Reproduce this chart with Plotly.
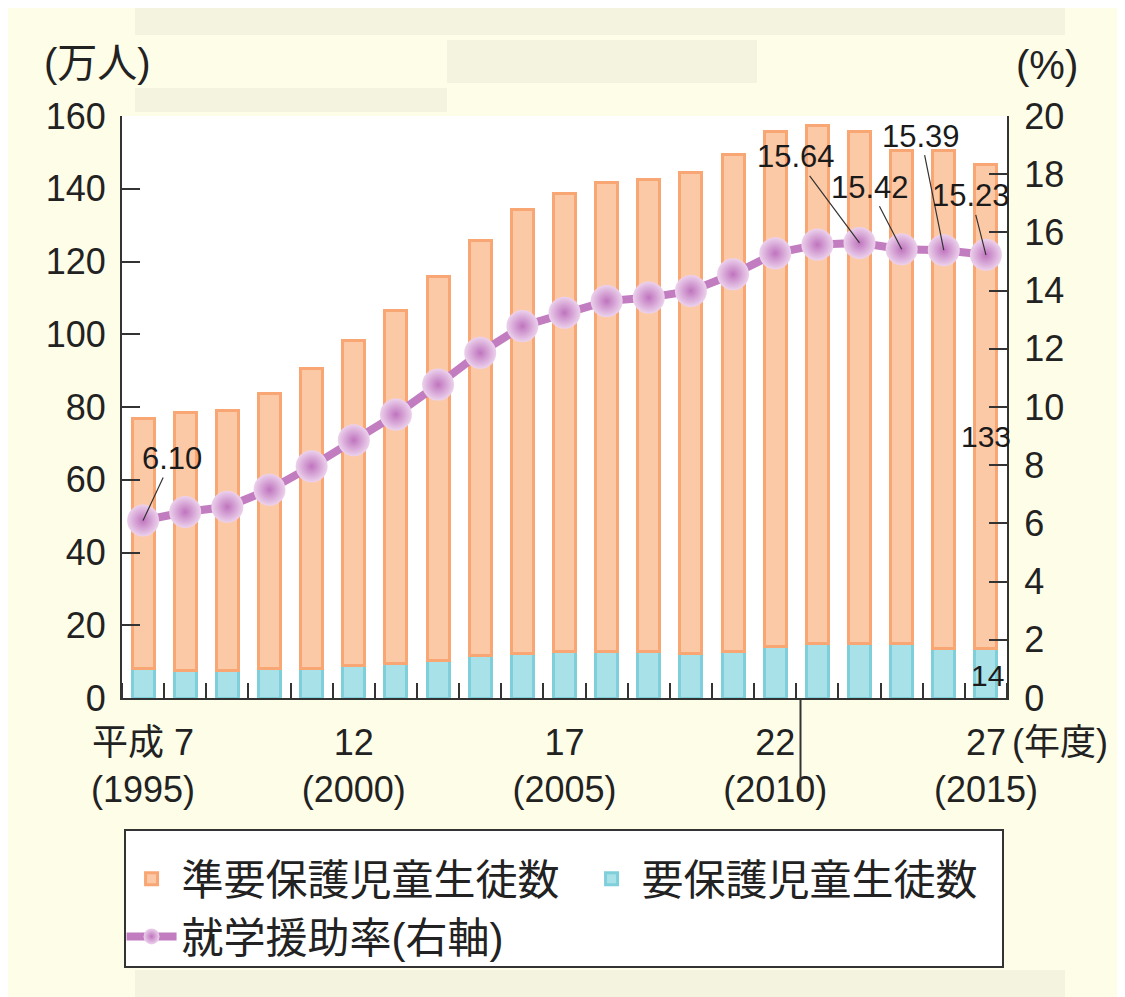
import plotly.graph_objects as go

# ---- data ----
years = list(range(1995, 2016))
jun_yohogo = [68.7, 70.9, 71.6, 75.4, 82.4, 89.4, 96.8, 105.6, 114.3, 122.1, 125.7,
              128.9, 129.6, 132.2, 136.4, 141.6, 142.5, 140.9, 135.6, 136.9, 133.2]
yohogo = [8.2, 7.5, 7.5, 8.2, 8.2, 8.9, 9.6, 10.2, 11.6, 12.3, 12.9,
          12.9, 12.9, 12.3, 12.9, 14.2, 14.9, 14.9, 14.9, 13.6, 13.5]
rate = [6.10, 6.39, 6.57, 7.16, 7.96, 8.86, 9.74, 10.77, 11.86, 12.78, 13.24,
        13.64, 13.76, 13.99, 14.56, 15.28, 15.58, 15.64, 15.42, 15.39, 15.23]
tick_years = [1995, 2000, 2005, 2010, 2015]
tick_text = ["平成 7<br>(1995)", "12<br>(2000)", "17<br>(2005)", "22<br>(2010)", "27<br>(2015)"]
names = ["準要保護児童生徒数", "要保護児童生徒数", "就学援助率(右軸)"]

W, H = 1125, 997
OFF = 8  # page margin of the html body
L, T = 114, 108
R = W - 999
B = H - 690
pw, ph = W - L - R, H - T - B

def px(sx):
    return (sx - OFF - L) / pw

def py(sy):
    return (H - B - (sy - OFF)) / ph

FONT = "Liberation Sans, Noto Sans CJK JP, sans-serif"
CREAM = "#fefde8"
BOX = "#f3f3df"
AX = "#333333"

fig = go.Figure()
fig.add_trace(go.Bar(
    x=years, y=yohogo, name=names[1], width=0.52,
    marker=dict(color="#a9e1e9", line=dict(color="#7fcfdb", width=3)),
    legendrank=2,
))
fig.add_trace(go.Bar(
    x=years, y=jun_yohogo, name=names[0], width=0.52,
    marker=dict(color="#fcc9a6", line=dict(color="#f8a673", width=3)),
    legendrank=1,
))
fig.add_trace(go.Scatter(
    x=years, y=rate, name=names[2], yaxis="y2", mode="lines+markers",
    line=dict(color="#c27cc0", width=8),
    marker=dict(size=32, color="#ecd2ec", gradient=dict(type="radial", color="#bf74be"),
                line=dict(width=0)),
    legendrank=3,
))

shapes = [
    # decorative boxes
    dict(type="rect", xref="paper", yref="paper", x0=px(135), x1=px(1065), y0=py(35), y1=py(8),
         fillcolor=BOX, line=dict(width=0), layer="below"),
    dict(type="rect", xref="paper", yref="paper", x0=px(447), x1=px(757), y0=py(83), y1=py(40),
         fillcolor=BOX, line=dict(width=0), layer="below"),
    dict(type="rect", xref="paper", yref="paper", x0=px(135), x1=px(447), y0=py(112), y1=py(88),
         fillcolor=BOX, line=dict(width=0), layer="below"),
    dict(type="rect", xref="paper", yref="paper", x0=px(135), x1=px(1065), y0=py(1005), y1=py(970),
         fillcolor=BOX, line=dict(width=0), layer="below"),
    # legend frame
    dict(type="rect", xref="paper", yref="paper", x0=px(125), x1=px(1003), y0=py(967), y1=py(830),
         fillcolor="white", line=dict(color=AX, width=2), layer="below"),
    # stray long tick
    dict(type="line", xref="x", yref="paper", x0=2010.6, x1=2010.6, y0=0, y1=py(800),
         line=dict(color=AX, width=2)),
]

ann_font = dict(family=FONT, size=31, color="#1a1a1a")
annotations = [
    dict(text="(万人)", xref="paper", yref="paper", x=px(97), y=py(63), xanchor="center",
         yanchor="middle", showarrow=False, font=dict(family=FONT, size=40, color="#222")),
    dict(text="(%)", xref="paper", yref="paper", x=px(1047), y=py(65), xanchor="center",
         yanchor="middle", showarrow=False, font=dict(family=FONT, size=40, color="#222")),
    dict(text="(年度)", xref="x", yref="paper", x=2015, y=0, xanchor="left", yanchor="middle",
         xshift=24, yshift=-44, showarrow=False, font=dict(family=FONT, size=36, color="#222")),
    dict(text="133", xref="x", yref="y", x=years[-1], y=72, showarrow=False,
         xanchor="center", yanchor="middle", font=dict(family=FONT, size=30, color="#1a1a1a")),
    dict(text="14", xref="x", yref="y", x=years[-1], y=6.3, showarrow=False, xshift=2,
         xanchor="center", yanchor="middle", font=dict(family=FONT, size=30, color="#1a1a1a")),
]
labels = [(0, 29, -62), (17, -64, -86), (18, -32, -62), (19, -23, -114), (20, -15, -59)]
for i, ax, ay in labels:
    annotations.append(dict(
        text=f"{rate[i]:.2f}", xref="x", yref="y2", x=years[i], y=rate[i],
        ax=ax, ay=ay, showarrow=True, arrowhead=0, arrowwidth=1.2, arrowcolor="#333",
        standoff=0, font=ann_font,
    ))

fig.update_layout(
    width=W, height=H,
    margin=dict(l=L, r=R, t=T, b=B, autoexpand=False),
    paper_bgcolor=CREAM, plot_bgcolor="white",
    barmode="stack", bargap=0.48,
    font=dict(family=FONT, size=36, color="#222"),
    showlegend=True,
    legend=dict(orientation="h", x=-0.0005, y=py(845), xanchor="left", yanchor="top",
                bgcolor="rgba(0,0,0,0)", font=dict(family=FONT, size=42, color="#222"),
                traceorder="normal", entrywidth=395, itemwidth=50),
    xaxis=dict(range=[1994.5, 2015.5], tickvals=tick_years, ticktext=tick_text,
               showline=True, linecolor=AX, linewidth=2, ticks="", showgrid=False,
               zeroline=False, tickfont=dict(size=36), ticklabelstandoff=12,
               minor=dict(ticks="inside", tick0=1994.5, dtick=1, ticklen=15,
                          tickwidth=2, tickcolor=AX, showgrid=False)),
    yaxis=dict(range=[0, 160], dtick=20, showline=True, linecolor=AX, linewidth=2,
               ticks="inside", ticklen=18, tickwidth=2, tickcolor=AX, showgrid=False,
               zeroline=False, tickfont=dict(size=36), ticklabelstandoff=7),
    yaxis2=dict(range=[0, 20], dtick=2, overlaying="y", side="right", showline=True,
                linecolor=AX, linewidth=2, ticks="inside", ticklen=18, tickwidth=2,
                tickcolor=AX, showgrid=False, zeroline=False, tickfont=dict(size=36),
                ticklabelstandoff=8),
    shapes=shapes,
    annotations=annotations,
)

fig.write_html("out.html")
